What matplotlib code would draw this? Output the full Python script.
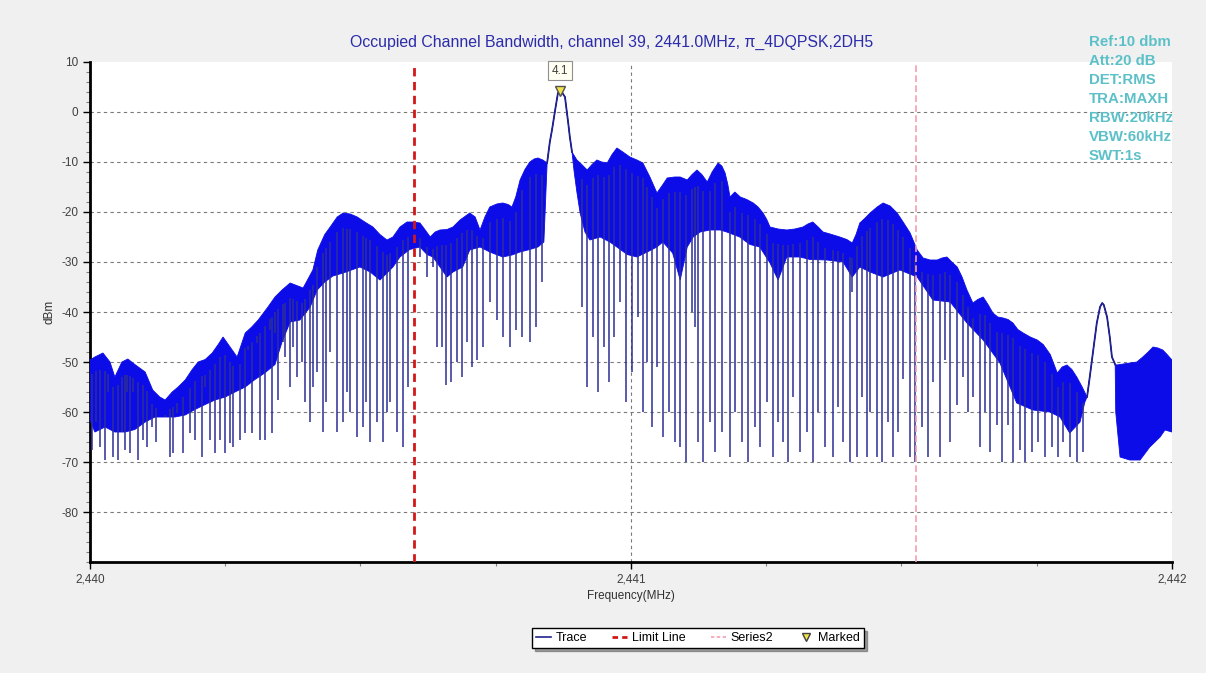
import numpy as np
import matplotlib
matplotlib.use('Agg')
import matplotlib.pyplot as plt
from matplotlib.lines import Line2D
from matplotlib.ticker import MultipleLocator, FuncFormatter

plt.rcParams['font.family'] = ['Liberation Sans', 'DejaVu Sans']
plt.rcParams['axes.unicode_minus'] = False

# frequencies are kHz above 2440 MHz, levels in dBm
f0 = 2440.0

# trace envelope, left of the carrier
seg1_up_khz = [0, 9, 24, 37, 46, 59, 70, 83, 102, 116, 129, 139, 152, 163, 176, 189, 200, 213,
               226, 237, 246, 259, 272, 287, 299, 311, 329, 342, 355, 370, 394, 412, 421, 434,
               444, 457, 468, 481, 494, 508, 523, 536, 549, 560, 573, 586, 597, 610, 619, 629,
               638, 647, 660, 671, 684, 702, 712, 721, 730, 739, 752, 763, 773, 780, 787, 795,
               804, 813, 821, 828, 837]
seg1_up_db = [-49.6, -49, -48.2, -50, -53, -50, -49.4, -50.5, -52, -55.6, -57, -57.6, -56, -55,
              -53.6, -51.5, -50, -49.5, -48.2, -46.5, -45, -47, -49, -44.2, -43, -41.6, -39, -37,
              -35.6, -34.2, -35.2, -31.6, -27.6, -24.5, -23, -21, -20.2, -20.4, -21, -22, -23,
              -24.5, -25.6, -25, -23, -22, -22, -22.2, -23.5, -25, -24, -23.6, -23.5, -23, -21.6,
              -20.2, -21, -23.6, -21, -19, -18.4, -18.2, -18.5, -19, -17, -13.6, -11.5, -10,
              -9.4, -9.2, -9.6]
seg1_lo_khz = [0, 9, 28, 46, 65, 83, 102, 120, 139, 157, 176, 194, 213, 231, 250, 268, 287, 305,
               323, 342, 355, 370, 388, 407, 420, 434, 449, 468, 486, 499, 518, 536, 560, 573,
               591, 610, 623, 634, 647, 660, 671, 689, 702, 721, 739, 763, 780, 795, 813, 828,
               839]
seg1_lo_db = [-61.6, -64, -63, -64, -64, -63.5, -62, -61, -61, -61, -60.6, -59.5, -58.5, -57.6,
              -57, -56, -55, -53.5, -52.2, -50.5, -46, -42, -41.6, -39, -35.6, -34, -32.8, -32.2,
              -31.5, -31, -32, -33.6, -31, -29, -27.5, -27, -28.5, -29, -31, -33, -32, -31,
              -27.6, -27, -28, -29, -28.6, -28, -27.5, -27, -26]

# carrier peak
peak_khz = [845, 850, 854, 860, 865, 869, 872, 878, 884, 887, 891]
peak_db = [-10.2, -6, -3.6, 0.5, 3.8, 4.1, 4, 3, -2.2, -5, -8]

# trace envelope, right of the carrier
seg2_up_khz = [900, 909, 919, 928, 937, 946, 956, 965, 974, 985, 998, 1011, 1022, 1035, 1048,
               1059, 1067, 1081, 1091, 1104, 1113, 1122, 1131, 1141, 1150, 1161, 1168, 1174,
               1179, 1183, 1192, 1202, 1214, 1226, 1235, 1244, 1251, 1257, 1272, 1288, 1303,
               1318, 1327, 1336, 1346, 1355, 1368, 1386, 1399, 1409, 1416, 1423, 1433, 1442,
               1455, 1466, 1479, 1492, 1503, 1516, 1529, 1540, 1553, 1566, 1575, 1584, 1593,
               1603, 1612, 1621, 1632, 1641, 1651, 1660, 1669, 1678, 1688, 1697, 1706, 1715,
               1725, 1738, 1751, 1762, 1775, 1788, 1797, 1806, 1815, 1824, 1834]
seg2_up_db = [-9.6, -10.5, -11.6, -10.5, -9.6, -10, -10.2, -8.5, -7.2, -8, -9, -9.6, -10.2, -13,
              -16.2, -14.5, -13.2, -13, -13, -13.6, -12.5, -11.6, -12.5, -14, -12, -10.2, -10.8,
              -12.2, -14.5, -17, -16, -17, -17.5, -18.2, -19, -20.2, -21.5, -23, -23.4, -23.6,
              -23.4, -23, -22.4, -22, -23, -24, -24.4, -25, -25.5, -26.2, -24.5, -22.2, -21.2,
              -20.2, -19, -18.2, -18.8, -20.2, -22, -24.2, -27.6, -29.2, -29.6, -29.6, -29.2,
              -29, -30, -31, -33, -35.6, -38.2, -37.5, -37, -38.5, -40.2, -41, -41.2, -41.5,
              -42.2, -43.5, -44.2, -45, -45.6, -46.5, -48.5, -52.2, -51, -50.6, -51.5, -53, -55]
seg2_lo_khz = [895, 900, 906, 915, 924, 943, 961, 974, 993, 1011, 1030, 1048, 1059, 1077, 1091,
               1104, 1115, 1128, 1146, 1165, 1177, 1201, 1220, 1238, 1257, 1272, 1288, 1312,
               1331, 1362, 1392, 1409, 1423, 1442, 1466, 1497, 1529, 1558, 1590, 1621, 1651,
               1682, 1713, 1743, 1774, 1793, 1811, 1830, 1839]
seg2_lo_db = [-12, -16, -20.2, -24, -25.6, -25, -26, -27, -28.5, -29, -28, -27, -26, -28.2,
              -33.6, -27, -25, -24, -23.6, -23.6, -24, -25, -26.5, -27, -30.2, -33.6, -29, -29,
              -29.5, -29.6, -30, -33, -31, -32, -33, -31.6, -33, -37.6, -38, -42.2, -45.6, -50.2,
              -58.2, -59.6, -60, -61, -64.2, -62, -58]

# spur near 2441.87 MHz
side_khz = [1843, 1848, 1854, 1861, 1867, 1871, 1874, 1880, 1885, 1889, 1895]
side_db = [-57, -53, -48, -42.2, -39, -38.2, -38.6, -41, -45, -49, -50.5]

seg3_up_khz = [1898, 1922, 1935, 1946, 1956, 1965, 1974, 1983, 1991, 2000]
seg3_up_db = [-50.6, -50.2, -50, -49, -48, -47, -47.2, -47.6, -48.5, -49.6]
seg3_lo_khz = [1896, 1904, 1922, 1941, 1959, 1978, 1987, 2000]
seg3_lo_db = [-60, -69, -69.6, -69.6, -67, -65, -63.6, -64]

# deep notches of the max-hold trace
spike_khz = [4, 11, 18, 28, 33, 43, 52, 59, 65, 68, 74, 79, 89, 98, 105, 115, 122, 129,
             139, 148, 153, 161, 172, 185, 194, 207, 213, 222, 231, 240, 250, 259, 264, 277,
             287, 292, 299, 309, 314, 323, 333, 336, 342, 348,
             357, 360, 370, 375, 383, 392, 398, 407, 412, 420, 431, 436, 444, 457, 468, 475,
             481, 494, 505, 510, 518, 530, 542, 549, 555, 567, 579, 588,
             610, 623, 634, 641, 651, 658, 667, 678, 688, 697, 706, 715, 726, 739, 752, 763,
             776, 787, 799, 813, 824, 835,
             909, 919, 930, 939, 950, 959, 969, 980, 991, 1002, 1013, 1022, 1030, 1039, 1048,
             1059, 1070, 1081, 1091, 1102, 1113, 1118, 1124, 1133, 1146, 1155, 1168, 1183,
             1192, 1205, 1216, 1229, 1238, 1251, 1262, 1272, 1281, 1290, 1299, 1312, 1325,
             1336, 1346, 1359, 1373, 1383, 1392, 1405,
             1409, 1418, 1427, 1436, 1442, 1455, 1464, 1475, 1484, 1494, 1503, 1516, 1525,
             1538, 1549, 1558, 1571, 1580, 1590, 1603, 1614, 1623, 1632, 1645, 1654, 1664,
             1677, 1686, 1697, 1706, 1719, 1728, 1741, 1752, 1765, 1778, 1789, 1799, 1811,
             1824, 1835]
spike_db = [-67.6, -62, -67, -69.6, -56, -69, -69.6, -64, -67.6, -56, -68.2, -56, -69.6, -65.6,
            -67, -63, -66, -60,
            -61, -69, -68.2, -60.2, -68.2, -64.2, -65.6, -69, -55, -65.6, -68.2, -65.6, -68.2,
            -66.2, -67, -65.6, -64.2, -47.6, -64.2, -46.2, -65.6, -65.6, -43.6, -64.2, -44.2,
            -57.6,
            -46, -49, -55, -47, -53, -50, -58, -62, -55, -52, -64, -58, -48, -64, -62, -56,
            -60, -65, -63, -58, -66, -62, -66, -60, -58, -64, -67, -55,
            -29, -33, -31, -47, -47, -54.5, -54, -50, -53, -46, -51, -49.6, -47, -38, -41.6,
            -45, -47, -43.6, -45, -46, -43, -34,
            -39, -55, -45, -56, -47, -54, -45, -38, -58, -52, -41, -60, -50, -63, -51, -65,
            -60, -66, -67, -70, -40, -43, -66, -70, -62, -68, -64, -69, -60, -66, -70, -63,
            -67, -58, -69, -62, -66, -70, -57, -68, -64, -70, -60, -67, -69, -59, -66, -70,
            -36, -69, -57, -69, -60, -69, -70, -62, -69, -64, -53.4, -69, -70, -63, -69, -54,
            -69, -49.6, -66, -58.6, -53, -60, -57, -67, -60, -68, -62.6, -70, -62.6, -70,
            -67.6, -70, -68, -66, -69, -67, -69, -66, -69, -70, -68]

limit_khz = 599
series2_khz = 1527
marker_khz = 869
marker_db = 4.1

info = ['Ref:10 dbm', 'Att:20 dB', 'DET:RMS', 'TRA:MAXH', 'RBW:20kHz', 'VBW:60kHz', 'SWT:1s']
title = 'Occupied Channel Bandwidth, channel 39, 2441.0MHz, π_4DQPSK,2DH5'


def mhz(k):
    return f0 + np.asarray(k, dtype=float) / 1000


navy = '#23238c'
fig = plt.figure(figsize=(12.06, 6.73), dpi=100, facecolor='#f0f0f0')
ax = fig.add_axes([0.0746, 0.1649, 0.8972, 0.743])
ax.set_facecolor('white')

up_x = mhz(seg1_up_khz + peak_khz + seg2_up_khz + side_khz + seg3_up_khz)
up_y = np.array(seg1_up_db + peak_db + seg2_up_db + side_db + seg3_up_db)
lo_x = mhz(seg1_lo_khz + peak_khz + seg2_lo_khz + side_khz + seg3_lo_khz)
lo_y = np.array(seg1_lo_db + peak_db + seg2_lo_db + side_db + seg3_lo_db)

ax.fill(np.r_[up_x, lo_x[::-1]], np.r_[up_y, lo_y[::-1]], color='#0c0ce8', lw=0.6,
        ec='#0c0ce8', zorder=3)
ax.plot(mhz(peak_khz), peak_db, color=navy, lw=1.3, zorder=4)
ax.plot(mhz(side_khz), side_db, color=navy, lw=1.3, zorder=4)

sx = mhz(spike_khz)
top = np.interp(sx, up_x, up_y) - 3
ax.vlines(sx, spike_db, top, colors='#2e2e96', lw=1.1, zorder=4)

ax.axvline(mhz(limit_khz), color='#d01818', ls=(0, (3, 2)), lw=2, zorder=5)
ax.axvline(mhz(series2_khz), color='#f4a0b0', ls=(0, (4, 2)), lw=1.2, zorder=5)

ax.plot(mhz(marker_khz), marker_db, marker='v', ms=7, mfc='#f2e24a', mec='#505050',
        ls='none', zorder=7)
ax.annotate('4.1', (mhz(marker_khz), marker_db), xytext=(0, 15), textcoords='offset points',
            ha='center', va='center', fontsize=8.5, color='#404040', zorder=8,
            bbox=dict(boxstyle='square,pad=0.3', fc='#fffff2', ec='#909090', lw=0.8))

# grid
for g in range(-80, 10, 10):
    ax.axhline(g, color='#7a7a7a', ls=(0, (3, 3)), lw=0.8, zorder=1)
ax.axvline(2441, color='#7a7a7a', ls=(0, (3, 3)), lw=0.8, zorder=1)

ax.set_xlim(2440, 2442)
ax.set_ylim(-90, 10)
ax.set_yticks(range(-80, 11, 10))
ax.yaxis.set_minor_locator(MultipleLocator(2))
ax.set_xticks([2440, 2441, 2442])
ax.xaxis.set_minor_locator(MultipleLocator(0.25))
ax.xaxis.set_major_formatter(FuncFormatter(lambda v, p: f'{v:,.0f}'))
ax.tick_params(which='major', length=5, width=1, labelsize=8.5, labelcolor='#404040')
ax.tick_params(which='minor', length=3, width=0.8, color='#808080')

for s in ['top', 'right']:
    ax.spines[s].set_visible(False)
for s in ['left', 'bottom']:
    ax.spines[s].set_linewidth(2)

ax.set_ylabel('dBm', fontsize=8.5, color='#303030', labelpad=4)
ax.set_xlabel('Frequency(MHz)', fontsize=8.5, color='#303030', labelpad=3)

fig.text(0.5075, 0.9376, title, color='#2b2bab', fontsize=11.4, ha='center', va='center')
for i, line in enumerate(info):
    fig.text(1089 / 1206, 1 - (42 + 19 * i) / 673, line, color='#5cc0c8', fontsize=10.8,
             fontweight='bold', ha='left', va='center')

handles = [Line2D([], [], color=navy, lw=1.2, label='Trace'),
           Line2D([], [], color='#d01818', lw=2, ls=(0, (2, 1.5)), label='Limit Line'),
           Line2D([], [], color='#f4a0b0', lw=1.2, ls=(0, (2, 1.5)), label='Series2'),
           Line2D([], [], marker='v', ms=6, mfc='#f2e24a', mec='#404040', ls='none',
                  label='Marked')]
leg = fig.legend(handles=handles, loc='center', bbox_to_anchor=(0.5788, 0.052), ncol=4,
                 fontsize=9, frameon=True, fancybox=False, shadow=True, edgecolor='black',
                 handlelength=1.2, handletextpad=0.4, columnspacing=2.0, borderpad=0.3)
leg.get_frame().set_linewidth(1)

fig.savefig('out.png', dpi=100, facecolor=fig.get_facecolor())
